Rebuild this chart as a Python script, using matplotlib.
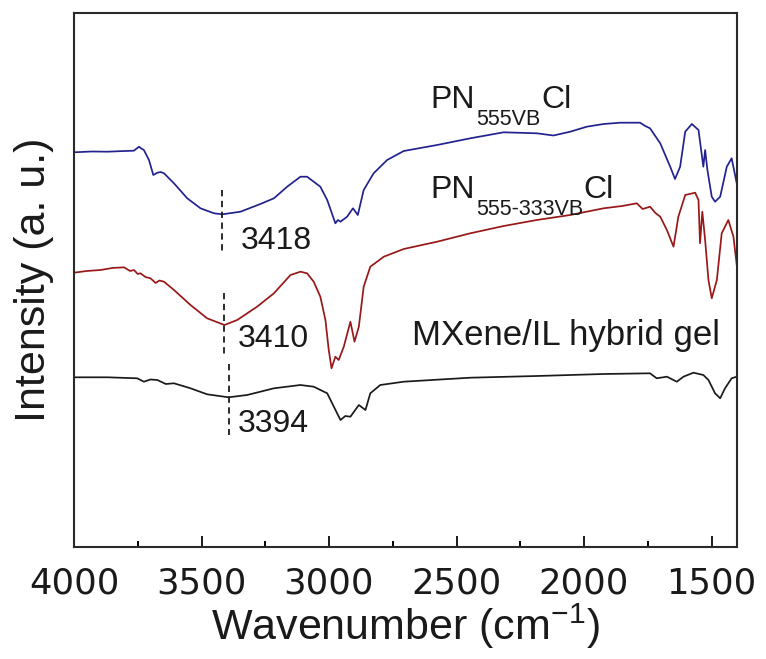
import matplotlib
matplotlib.use("Agg")
import matplotlib.pyplot as plt
from matplotlib.ticker import MultipleLocator, NullLocator

plt.rcParams['font.family'] = ['Liberation Sans', 'DejaVu Sans']
plt.rcParams['mathtext.fontset'] = 'custom'
plt.rcParams['mathtext.rm'] = 'Liberation Sans'

# ---- data (y in arbitrary intensity units) ----
blue_wn = [4000, 3930, 3869, 3800, 3765, 3745, 3736, 3726, 3706, 3689, 3673, 3660, 3647, 3608, 3556,
           3504, 3451, 3418, 3347, 3269, 3216, 3164, 3112, 3086, 3060, 3034, 3007,
           2975, 2965, 2955, 2929, 2906, 2887, 2864, 2825, 2772, 2707, 2576, 2446, 2315,
           2185, 2120, 2054, 1989, 1923, 1858, 1780, 1760, 1741, 1701, 1662, 1643, 1623, 1603,
           1577, 1551, 1532, 1525, 1516, 1499, 1486, 1466, 1440, 1421, 1401]
blue_int = [394.7, 395.5, 395.3, 396.0, 396.3, 400.3, 398.5, 397.0, 387.0, 372.0, 374.3, 375.0, 373.7, 363.7, 348.7,
            338.7, 333.7, 332.7, 335.3, 343.0, 348.7, 360.3, 370.3, 370.3, 365.3, 360.3, 347.0,
            323.7, 327.0, 325.3, 330.3, 338.7, 332.0, 357.0, 373.7, 387.0, 396.0, 402.0, 408.7, 414.7,
            413.7, 411.5, 415.3, 420.3, 423.0, 424.3, 424.3, 421.0, 418.7, 403.7, 380.3, 368.0, 380.3, 415.3,
            423.0, 417.0, 380.3, 397.0, 377.0, 350.3, 345.3, 350.3, 380.3, 388.7, 363.7]

red_wn = [4000, 3950, 3896, 3850, 3804, 3780, 3765, 3750, 3739, 3720, 3700, 3680, 3665, 3647, 3608, 3543,
          3478, 3410, 3360, 3282, 3216, 3151, 3112, 3086, 3060, 3034, 3014, 3001, 2990, 2975, 2962,
          2942, 2916, 2900, 2883, 2864, 2838, 2785, 2707, 2576, 2446, 2315, 2185,
          2054, 1923, 1850, 1793, 1770, 1741, 1720, 1701, 1675, 1649, 1630, 1603, 1564, 1551, 1545,
          1536, 1525, 1512, 1499, 1479, 1460, 1434, 1414, 1401]
red_int = [274.3, 276.0, 277.0, 279.0, 279.7, 276.0, 277.0, 273.0, 273.7, 270.0, 268.7, 264.0, 266.5, 265.3, 257.0, 242.0,
           228.7, 222.0, 227.0, 240.3, 253.7, 272.0, 275.3, 273.7, 265.3, 250.3, 227.0, 197.0, 178.7, 190.3, 187.0,
           200.3, 225.3, 205.3, 220.3, 260.3, 280.3, 290.3, 298.0, 305.3, 313.7, 321.0, 327.0,
           332.0, 338.7, 341.0, 343.7, 338.0, 340.3, 334.0, 330.3, 317.0, 300.3, 330.3, 352.0, 354.3, 347.0, 303.7,
           335.3, 307.0, 267.0, 248.7, 267.0, 313.7, 327.0, 310.3, 282.0]

black_wn = [4000, 3869, 3752, 3726, 3700, 3673, 3640, 3608, 3543, 3478, 3394, 3321, 3216, 3112,
            3060, 3007, 2981, 2955, 2936, 2916, 2883, 2857, 2838, 2799, 2707, 2446,
            2185, 1923, 1741, 1715, 1675, 1636, 1610, 1571, 1532, 1512, 1486, 1466,
            1447, 1421, 1401]
black_int = [169.7, 169.7, 168.7, 165.3, 167.5, 167.0, 163.0, 163.7, 158.7, 152.7, 149.7, 152.0, 158.7, 162.0,
             160.3, 153.7, 140.3, 127.0, 131.0, 130.3, 142.0, 137.0, 153.7, 162.0, 165.3, 169.3,
             171.0, 173.0, 173.7, 168.7, 170.3, 165.3, 170.3, 174.3, 172.0, 167.0, 153.7, 148.7,
             158.7, 168.7, 170.3]

peak_labels = ["3418", "3410", "3394"]
peak_wn = [3418, 3410, 3394]
series_main = ["PN", "PN", "MXene/IL hybrid gel"]
series_sub = ["555VB", "555-333VB"]
series_tail = "Cl"
x_ticks = [4000, 3500, 3000, 2500, 2000, 1500]

# ---- figure ----
fig = plt.figure(figsize=(7.66, 6.59), dpi=100)
ax = fig.add_axes([74/766, 1-547/659, (737-74)/766, (547-13)/659])

ax.plot(blue_wn, blue_int, color='#22228e', lw=1.25)
ax.plot(red_wn, red_int, color='#981818', lw=1.25)
ax.plot(black_wn, black_int, color='#1a1a1a', lw=1.25)

# dashed markers of the O-H band minima
dash_kw = dict(color='#1a1a1a', lw=1.3, linestyle=(0, (3.5, 2.5)))
ax.plot([peak_wn[0], peak_wn[0]], [357, 292], **dash_kw)
ax.plot([peak_wn[1], peak_wn[1]], [254, 190], **dash_kw)
ax.plot([peak_wn[2], peak_wn[2]], [183, 112], **dash_kw)

txt = '#1a1a1a'
num_fs = 23
ax.text(3346, 298, peak_labels[0], fontsize=num_fs, ha='left', va='baseline', color=txt)
ax.text(3357, 200, peak_labels[1], fontsize=num_fs, ha='left', va='baseline', color=txt)
ax.text(3357, 115, peak_labels[2], fontsize=num_fs, ha='left', va='baseline', color=txt)


def chem_label(x, y, main, sub, tail, fs=23, sub_fs=15.5):
    t1 = ax.text(x, y, main, fontsize=fs, ha='left', va='baseline', color=txt)
    t2 = ax.annotate(sub, xy=(1, y), xycoords=(t1, 'data'), xytext=(0.5, -0.5),
                     textcoords='offset points', fontsize=sub_fs, ha='left', va='top',
                     color=txt)
    ax.annotate(tail, xy=(1, y), xycoords=(t2, 'data'), xytext=(0.5, 0),
                textcoords='offset points', fontsize=fs, ha='left', va='baseline',
                color=txt)


chem_label(2601, 439, series_main[0], series_sub[0], series_tail)
chem_label(2601, 349, series_main[1], series_sub[1], series_tail)
ax.text(2676, 202, series_main[2], fontsize=25, ha='left', va='baseline', color=txt)

ax.set_xlim(4000, 1400)
ax.set_ylim(0, 534)
ax.set_xticks(x_ticks)
ax.set_xticklabels([str(t) for t in x_ticks], fontfamily='DejaVu Sans')
ax.xaxis.set_minor_locator(MultipleLocator(250))
ax.yaxis.set_major_locator(NullLocator())
ax.tick_params(axis='x', which='major', direction='in', length=7.7, width=1.4,
               labelsize=25.5, pad=14, colors=txt)
ax.tick_params(axis='x', which='minor', direction='in', length=4.3, width=1.4)
ax.tick_params(axis='x', top=False, which='both')
for s in ax.spines.values():
    s.set_linewidth(1.5)
    s.set_color('#2a2a2a')

ax.set_xlabel(r"Wavenumber (cm$^\mathregular{-1}$)", fontsize=31, color=txt)
ax.xaxis.set_label_coords(0.5, -(602-547)/534)
ax.set_ylabel("Intensity (a. u.)", fontsize=31, color=txt)
ax.yaxis.set_label_coords(-(74-54)/663, 0.5)

fig.savefig("out.png", dpi=100)
